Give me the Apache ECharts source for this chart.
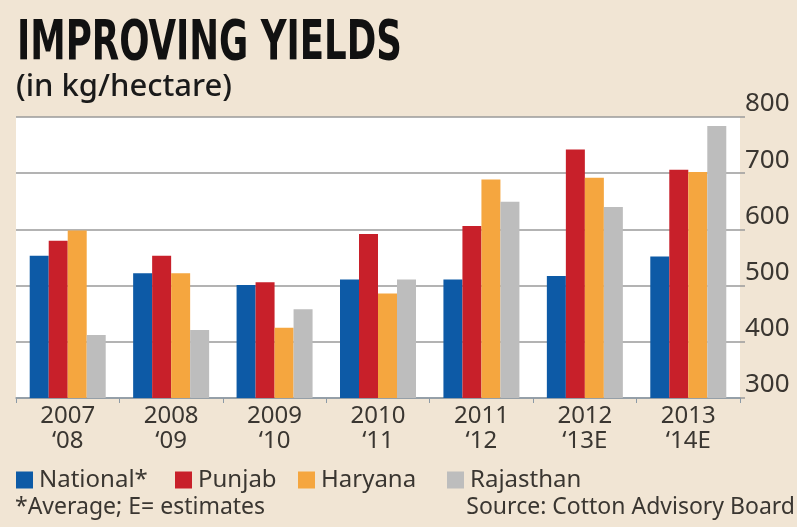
<!DOCTYPE html>
<html><head><meta charset="utf-8">
<script src="https://cdn.jsdelivr.net/npm/echarts@6/dist/echarts.min.js"></script>
<style>html,body{margin:0;padding:0;background:#f1e5d4;}#c{width:797px;height:527px;}</style>
</head><body><div id="c"></div>
<script>
const categories = ["2007\n\u201808", "2008\n\u201809", "2009\n\u201810", "2010\n\u201811", "2011\n\u201812", "2012\n\u201813E", "2013\n\u201814E"];
const national = [553, 522, 501, 511, 511, 517, 552];
const punjab = [580, 553, 506, 592, 606, 742, 706];
const haryana = [598, 522, 425, 486, 689, 692, 702];
const rajasthan = [412, 421, 458, 511, 649, 640, 784];
const yTicks = [300, 400, 500, 600, 700, 800];
const seriesNames = ['National*', 'Punjab', 'Haryana', 'Rajasthan'];

const FONT = "'Noto Sans', sans-serif";
const TXT = '#3a3631';
const chart = echarts.init(document.getElementById('c'), null, {renderer: 'canvas'});
function bar(name, data, color) {
  return {name, type: 'bar', data, barWidth: 19, barGap: '0%', itemStyle: {color}};
}
const legendLefts = [16, 175, 298, 447];
const legends = seriesNames.map((n, i) => ({
  left: legendLefts[i], top: 468, padding: 0, icon: 'rect', itemWidth: 17, itemHeight: 17,
  textStyle: {color: TXT, fontFamily: FONT, fontSize: 24, padding: [0, 0, 0, 1]},
  data: [n]
}));
chart.setOption({
  backgroundColor: '#f1e5d4',
  animation: false,
  grid: {left: 16, right: 57, top: 117, bottom: 129, show: true, backgroundColor: '#ffffff', borderWidth: 0},
  xAxis: {
    type: 'category', data: categories,
    axisLine: {lineStyle: {color: '#8c9aa6', width: 1.5}},
    axisTick: {show: true, length: 5, lineStyle: {color: '#8c9aa6'}},
    axisLabel: {color: TXT, fontFamily: FONT, fontSize: 24, lineHeight: 25, margin: 6}
  },
  yAxis: {
    type: 'value', position: 'right', min: yTicks[0], max: yTicks[yTicks.length - 1], interval: 100,
    axisLine: {show: false},
    axisTick: {show: true, length: 5, lineStyle: {color: '#9a9a9a', width: 1.5}},
    splitLine: {lineStyle: {color: '#9a9a9a', width: 1.5}},
    axisLabel: {color: TXT, fontFamily: FONT, fontSize: 26, verticalAlign: 'bottom', margin: 5, showMinLabel: true, showMaxLabel: true}
  },
  legend: legends,
  series: [
    bar(seriesNames[0], national, '#0d5aa6'),
    bar(seriesNames[1], punjab, '#c8202a'),
    bar(seriesNames[2], haryana, '#f5a63f'),
    bar(seriesNames[3], rajasthan, '#bdbdbd')
  ],
  graphic: [
    {type: 'text', left: 17, top: 16, scaleX: 0.707, style: {text: 'IMPROVING YIELDS', fill: '#111', font: "bold 56px 'DejaVu Sans Condensed', 'DejaVu Sans', sans-serif"}},
    {type: 'text', left: 16, top: 72, style: {text: '(in kg/hectare)', fill: '#1a1a1a', font: "500 31px " + FONT}},
    {type: 'text', left: 15, top: 496, style: {text: '*Average; E= estimates', fill: TXT, font: "23px " + FONT}},
    {type: 'text', right: 2, top: 496, style: {text: 'Source: Cotton Advisory Board', fill: TXT, font: "23px " + FONT}}
  ]
});
</script></body></html>
